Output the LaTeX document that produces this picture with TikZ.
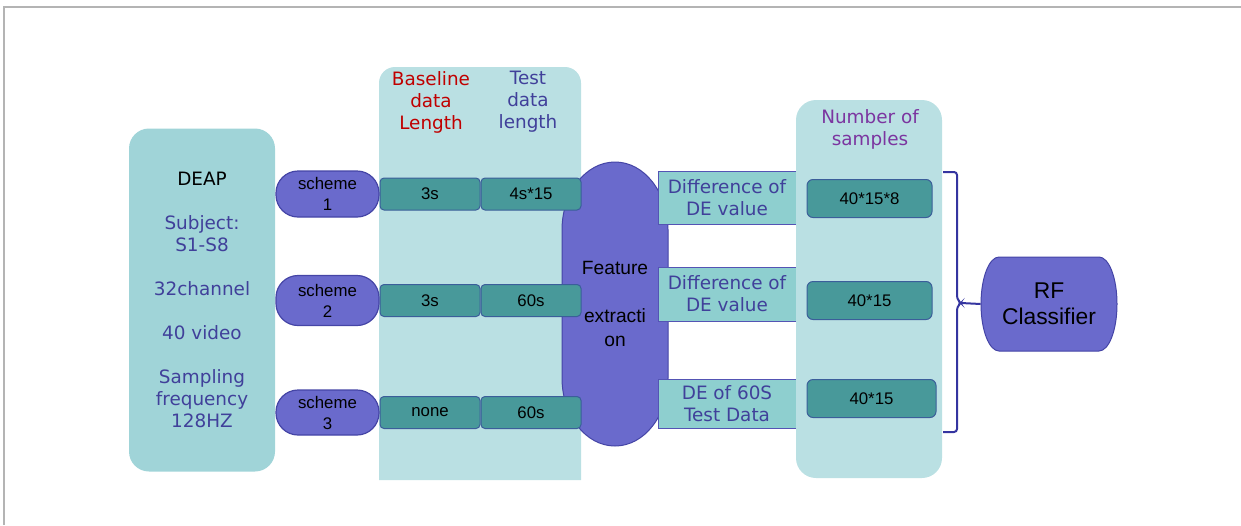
\documentclass[tikz,border=0pt]{standalone}
\usepackage{fontspec}
\setmainfont{Liberation Sans}
\newfontfamily\vfont{DejaVu Sans}
\definecolor{deapfill}{HTML}{A0D4D8}
\definecolor{panelfill}{HTML}{BAE0E3}
\definecolor{pfill}{HTML}{6A6ACC}
\definecolor{pborder}{HTML}{4545A6}
\definecolor{cfill}{HTML}{48999A}
\definecolor{cborder}{HTML}{3B5E9A}
\definecolor{dfill}{HTML}{8ECFCF}
\definecolor{dborder}{HTML}{5454B4}
\definecolor{tblue}{HTML}{40409A}
\definecolor{tred}{HTML}{C00000}
\definecolor{tpurple}{HTML}{7B35A0}
\definecolor{brk}{HTML}{3535A0}
\definecolor{framec}{HTML}{B4B4B4}
\begin{document}
\begin{tikzpicture}[x=0.5pt,y=-0.5pt,
  vtext/.style={font=\vfont\fontsize{9.2}{11}\selectfont, align=center, text=tblue},
  atext/.style={font=\fontsize{8.4}{10.5}\selectfont, align=center, text=black},
  pill/.style={draw=pborder, fill=pfill, line width=0.6pt, rounded corners=11pt, minimum width=51.5pt, inner sep=0pt, atext},
  cell/.style={draw=cborder, fill=cfill, line width=0.5pt, rounded corners=2pt, minimum width=50pt, minimum height=16pt, inner sep=0pt, atext},
  scell/.style={cell, minimum width=62.5pt, minimum height=19pt, rounded corners=3pt},
  debox/.style={draw=dborder, fill=dfill, line width=0.5pt, minimum width=69pt, inner sep=0pt, vtext},
  deapbox/.style={fill=deapfill, rounded corners=10pt, minimum width=73pt, minimum height=171.5pt, inner sep=0pt, vtext},
  rpanel/.style={fill=panelfill, rounded corners=10pt, minimum width=73pt, minimum height=189pt, inner sep=0pt},
  shapefill/.style={fill=pfill, draw=pborder, line width=0.5pt}
]
\useasboundingbox (0,0) rectangle (1241,525);
% frame
\coordinate (f1) at (4,525);
\coordinate (f2) at (4,7);
\coordinate (f3) at (1241,7);
\draw[framec, line width=0.9pt] (f1) -- (f2) -- (f3);

% DEAP box
\node[deapbox] (deap) at (202,300) {{\color{black}DEAP}\\[11pt]Subject:\\S1-S8\\[11pt]32channel\\[11pt]40 video\\[11pt]Sampling\\frequency\\128HZ};

% middle panel
\fill[panelfill] (379,480) [rounded corners=8pt] -- (379,67) -- (581,67) [sharp corners] -- (581,480) -- cycle;
\node[vtext, text=tred] (hbase) at (431,102) {Baseline\\data\\Length};
\node[vtext] (htest) at (528,102) {Test\\data\\length};

% feature extraction shape
\fill[shapefill] (562,230) arc[start angle=180, end angle=0, x radius=26.5pt, y radius=34pt] -- (668,378) arc[start angle=0, end angle=-180, x radius=26.5pt, y radius=34pt] -- cycle;
\node[font=\fontsize{9.6}{12}\selectfont, align=center] (feat) at (615,304) {Feature\\[12pt]extracti\\on};

% cells
\node[cell] (b1) at (430,194) {3s};
\node[cell] (t1) at (531,194) {4s*15};
\node[cell] (b2) at (430,300.5) {3s};
\node[cell] (t2) at (531,300.5) {60s};
\node[cell] (b3) at (430,412.5) {none};
\node[cell] (t3) at (531,412.5) {60s};

% schemes
\node[pill, minimum height=23pt] (s1) at (327.5,194) {scheme\\1};
\node[pill, minimum height=25pt] (s2) at (327.5,300.5) {scheme\\2};
\node[pill, minimum height=22.5pt] (s3) at (327.5,412.5) {scheme\\3};

% DE boxes
\node[debox, minimum height=26.5pt] (d1) at (727,197.5) {Difference of\\DE value};
\node[debox, minimum height=27pt] (d2) at (727,294) {Difference of\\DE value};
\node[debox, minimum height=24.5pt] (d3) at (727,403.5) {DE of 60S\\Test Data};

% right panel
\node[rpanel] (rp) at (869,289) {};
\node[vtext, text=tpurple] (hnum) at (870,129.5) {Number of\\samples};
\node[scell] (n1) at (869.5,198.5) {40*15*8};
\node[scell] (n2) at (869.5,300.5) {40*15};
\node[scell, minimum width=64.5pt] (n3) at (871.5,398.5) {40*15};

% RF classifier
\fill[shapefill] (999,257) -- (1099,257) arc[start angle=90, end angle=-90, x radius=9pt, y radius=23.5pt] -- (999,351) arc[start angle=270, end angle=90, x radius=9pt, y radius=23.5pt] -- cycle;
\node[font=\fontsize{11.4}{13}\selectfont, align=center, minimum width=68pt, minimum height=47pt, inner sep=0pt] (rf) at (1049,304) {RF\\Classifier};

% bracket
\coordinate (bt) at (943,172);
\coordinate (bb) at (943,432);
\coordinate (bm) at (961,303);
\draw[brk, line width=1pt, rounded corners=1.5pt] (bt) -- (957,172) -- (957,299) -- (bm) -- (957,307) -- (957,432) -- (bb);
\draw[brk, line width=1pt] (bm) -- (rf.west);
\end{tikzpicture}
\end{document}
